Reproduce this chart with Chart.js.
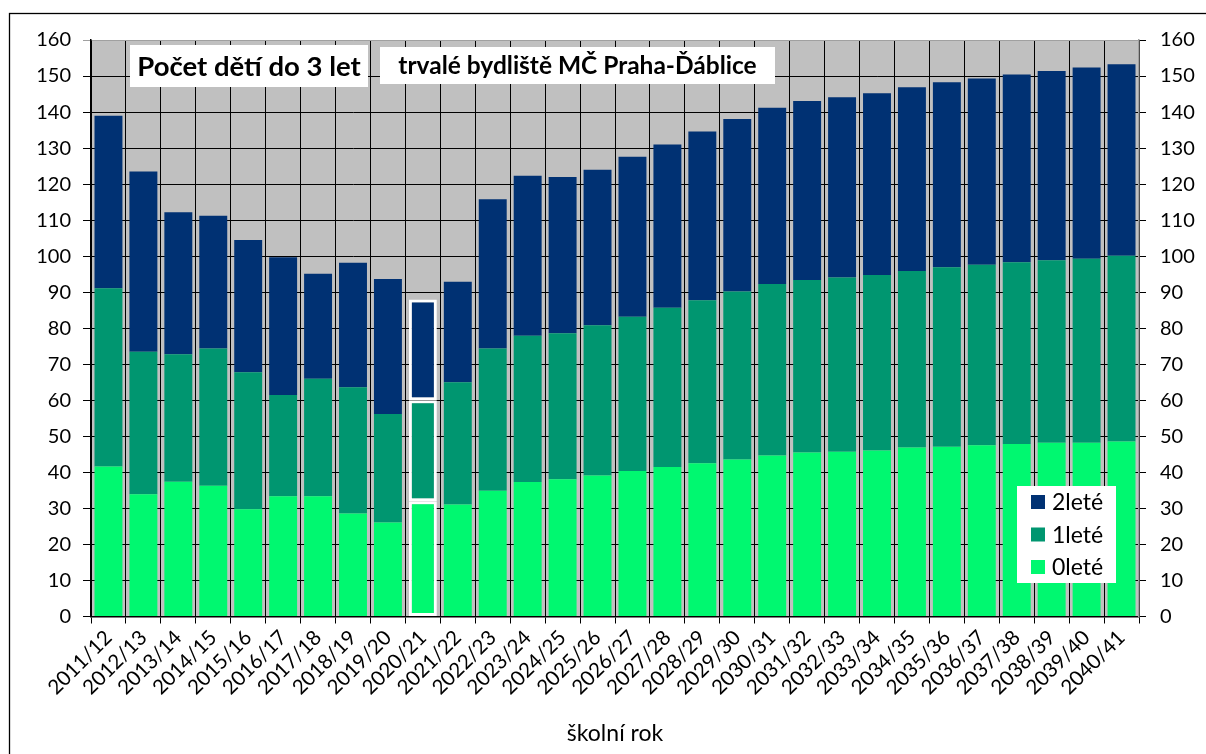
<!DOCTYPE html>
<html>
<head>
<meta charset="utf-8">
<script src="https://cdn.jsdelivr.net/npm/chart.js@4.4.1/dist/chart.umd.min.js"></script>
<style>
  html, body { margin: 0; background: #fff; }
  #wrap { width: 1206px; height: 754px; }
</style>
</head>
<body>
<div id="wrap"><canvas id="myBarChart" width="1206" height="754"></canvas></div>
<script>
// school years
const labels = [
    '2011/12', '2012/13', '2013/14', '2014/15', '2015/16', '2016/17', '2017/18', '2018/19',
    '2019/20', '2020/21', '2021/22', '2022/23', '2023/24', '2024/25', '2025/26', '2026/27',
    '2027/28', '2028/29', '2029/30', '2030/31', '2031/32', '2032/33', '2033/34', '2034/35',
    '2035/36', '2036/37', '2037/38', '2038/39', '2039/40', '2040/41'
];

// children by age
const age0 = [41.6, 33.9, 37.4, 36.3, 29.8, 33.4, 33.4, 28.6, 26.1, 32.0, 31.1, 34.9, 37.3, 38.1, 39.1,
              40.4, 41.5, 42.5, 43.6, 44.7, 45.5, 45.7, 46.1, 46.9, 47.1, 47.5, 47.9, 48.2, 48.2, 48.6];
const age1 = [49.5, 39.6, 35.4, 38.1, 38.0, 28.1, 32.6, 35.0, 30.1, 28.0, 33.9, 39.5, 40.6, 40.5, 41.7,
              42.8, 44.2, 45.3, 46.6, 47.6, 47.9, 48.4, 48.7, 49.0, 49.8, 50.1, 50.4, 50.7, 51.1, 51.5];
const age2 = [47.9, 50.0, 39.4, 36.8, 36.7, 38.2, 29.1, 34.6, 37.5, 28.0, 27.9, 41.4, 44.4, 43.4, 43.2,
              44.4, 45.3, 46.8, 47.9, 48.9, 49.7, 50.0, 50.4, 51.0, 51.4, 51.7, 52.1, 52.5, 53.1, 53.2];

const seriesNames = ['0leté', '1leté', '2leté'];
const yTicks = [0, 10, 20, 30, 40, 50, 60, 70, 80, 90, 100, 110, 120, 130, 140, 150, 160];

const title1 = 'Počet dětí do 3 let';
const title2 = 'trvalé bydliště MČ Praha-Ďáblice';
const xTitle = 'školní rok';

const highlight = labels.indexOf('2020/21');
const colors = ['#00f870', '#009670', '#003173'];
const FONT = 'Lato';

// white box with text on top of the plot
function textBox(ctx, x, y, w, h, text, font) {
    ctx.fillStyle = '#fff';
    ctx.fillRect(x, y, w, h);
    ctx.fillStyle = '#000';
    ctx.font = font;
    ctx.textAlign = 'center';
    ctx.textBaseline = 'middle';
    ctx.fillText(text, x + w / 2, y + h / 2 + 1);
}

const decor = {
    id: 'decor',
    beforeDraw(chart) {
        const { ctx, chartArea: a } = chart;
        ctx.save();
        ctx.fillStyle = '#c0c0c0';
        ctx.fillRect(a.left, a.top, a.right - a.left, a.bottom - a.top);
        ctx.strokeStyle = '#000';
        ctx.lineWidth = 1.3;
        ctx.strokeRect(9.5, 13.5, 1400, 900);
        ctx.restore();
    },
    afterDraw(chart) {
        const ctx = chart.ctx;
        ctx.save();
        textBox(ctx, 130, 45, 238, 42, title1, 'bold 27.5px ' + FONT);
        textBox(ctx, 380, 47, 395, 37, title2, 'bold 24.5px ' + FONT);

        // legend, top item = last dataset
        ctx.fillStyle = '#fff';
        ctx.fillRect(1017, 486, 99, 97);
        const ds = chart.data.datasets.slice().reverse();
        ds.forEach((d, i) => {
            const cy = 502 + i * 32.5;
            ctx.fillStyle = d.backgroundColor;
            ctx.fillRect(1031, cy - 7, 14, 14);
            ctx.fillStyle = '#000';
            ctx.font = '23px ' + FONT;
            ctx.textAlign = 'left';
            ctx.textBaseline = 'middle';
            ctx.fillText(d.label, 1052, cy + 1);
        });
        ctx.restore();
    }
};

const tickFont = { family: FONT, size: 20 };

const bar = (label, data, color) => ({
    label: label,
    data: data,
    backgroundColor: color,
    borderColor: '#fff',
    borderWidth: c => (c.dataIndex === highlight ? 3 : 0),
    borderSkipped: false,
    barPercentage: 0.8,
    categoryPercentage: 1.0
});

new Chart(document.getElementById('myBarChart'), {
    type: 'bar',
    data: {
        labels: labels,
        datasets: [
            bar(seriesNames[0], age0, colors[0]),
            bar(seriesNames[1], age1, colors[1]),
            bar(seriesNames[2], age2, colors[2])
        ]
    },
    options: {
        responsive: false,
        animation: false,
        layout: { padding: { left: 10, right: 10, top: 40, bottom: 0 } },
        scales: {
            x: {
                stacked: true,
                grid: { color: '#000', lineWidth: 1, offset: true, tickLength: 7 },
                border: { color: '#000', width: 1.5 },
                ticks: {
                    color: '#000', font: { family: FONT, size: 20.5 }, autoSkip: false,
                    minRotation: 45, maxRotation: 45, padding: 2
                },
                title: {
                    display: true, text: xTitle, color: '#000',
                    font: { family: FONT, size: 23 }, padding: { top: 0, bottom: 7 }
                },
                afterFit(s) { s.height = 137.5; }
            },
            y: {
                stacked: true,
                min: 0,
                max: 160,
                afterBuildTicks(s) { s.ticks = yTicks.map(v => ({ value: v })); },
                grid: {
                    color: c => (c.tick && c.tick.value === 160 ? '#a0a0a0' : '#000'),
                    lineWidth: 1, tickLength: 8
                },
                border: { color: '#000', width: 1.5 },
                ticks: { color: '#000', font: tickFont, padding: 12 },
                afterFit(s) { s.width = 81; }
            },
            y2: {
                position: 'right',
                min: 0,
                max: 160,
                afterBuildTicks(s) { s.ticks = yTicks.map(v => ({ value: v })); },
                grid: { drawOnChartArea: false, color: '#000', tickLength: 7 },
                border: { color: '#a0a0a0', width: 1.5 },
                ticks: { color: '#000', font: tickFont, padding: 14 },
                afterFit(s) { s.width = 57; }
            }
        },
        plugins: {
            legend: { display: false },
            tooltip: { enabled: false }
        }
    },
    plugins: [decor]
});
</script>
</body>
</html>
